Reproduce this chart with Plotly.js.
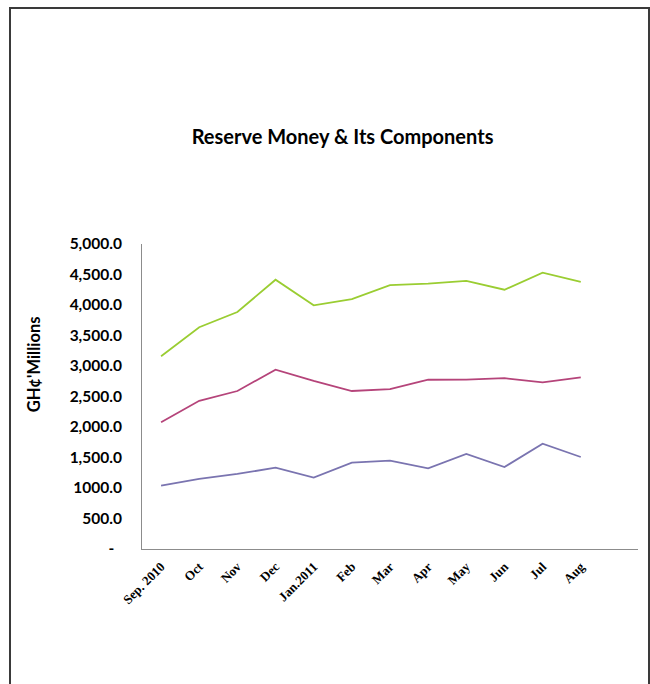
<!DOCTYPE html>
<html>
<head>
<meta charset="utf-8">
<script src="https://cdn.plot.ly/plotly-3.0.1.min.js"></script>
<style>
html,body{margin:0;padding:0;background:#fff;overflow:hidden;}
#frame{position:absolute;left:9px;top:7px;width:637px;height:700px;border:2px solid #3a3a3a;border-bottom:none;}
#chart{position:absolute;left:0;top:0;width:650px;height:684px;}
</style>
</head>
<body>
<div id="frame"></div>
<div id="chart"></div>
<script>
const categories = ["Sep. 2010","Oct","Nov","Dec","Jan.2011","Feb","Mar","Apr","May","Jun","Jul","Aug"];
const reserveMoney = [3160, 3635, 3885, 4415, 3995, 4095, 4325, 4350, 4395, 4250, 4530, 4380];
const componentA = [2077, 2430, 2590, 2940, 2755, 2590, 2620, 2775, 2778, 2800, 2732, 2815];
const componentB = [1038, 1148, 1230, 1333, 1170, 1415, 1448, 1323, 1557, 1344, 1726, 1508];
const yTickVals = [0, 500, 1000, 1500, 2000, 2500, 3000, 3500, 4000, 4500, 5000];
const yTickText = ["-  ", "500.0", "1000.0", "1,500.0", "2,000.0", "2,500.0", "3,000.0", "3,500.0", "4,000.0", "4,500.0", "5,000.0"];
const yAxisTitle = "GH¢'Millions";

const traces = [
  {x: categories, y: reserveMoney, mode: "lines", line: {color: "#9ACD32", width: 1.8}, name: "Reserve Money"},
  {x: categories, y: componentA, mode: "lines", line: {color: "#B5447A", width: 1.8}, name: "Component 1"},
  {x: categories, y: componentB, mode: "lines", line: {color: "#7A74B0", width: 1.8}, name: "Component 2"}
];

const font = "Lato, 'Open Sans', sans-serif";
const layout = {
  width: 650, height: 684,
  paper_bgcolor: "rgba(0,0,0,0)", plot_bgcolor: "rgba(0,0,0,0)",
  margin: {l: 142, r: 12, t: 244, b: 135},
  showlegend: false,
  title: {text: "Reserve Money & Its Components", x: 0.527, xanchor: "center", y: 0.8, yanchor: "middle",
          yref: "container",
          font: {family: font, size: 20, color: "#000", weight: "bold"}},
  xaxis: {
    type: "category",
    range: [-0.5, 12.5],
    showgrid: false, zeroline: false,
    showline: true, linecolor: "#8c8c8c", linewidth: 1,
    ticks: "", tickangle: -45,
    ticklabelstandoff: 4,
    tickfont: {family: "'Liberation Serif', 'Times New Roman', serif", size: 13, color: "#000", weight: "bold"},
    fixedrange: true
  },
  yaxis: {
    range: [0, 5000],
    showgrid: false, zeroline: false,
    showline: true, linecolor: "#8c8c8c", linewidth: 1,
    ticks: "", tickvals: yTickVals, ticktext: yTickText,
    ticklabelstandoff: 16,
    tickfont: {family: font, size: 15.5, color: "#000", weight: "bold"},
    fixedrange: true
  },
  annotations: [{
    text: yAxisTitle, xref: "paper", yref: "paper",
    x: -0.216, y: 0.605, xanchor: "center", yanchor: "middle",
    textangle: -90, showarrow: false,
    font: {family: font, size: 16.5, color: "#000", weight: "bold"}
  }]
};

Plotly.newPlot("chart", traces, layout, {displayModeBar: false, staticPlot: true});
</script>
</body>
</html>
